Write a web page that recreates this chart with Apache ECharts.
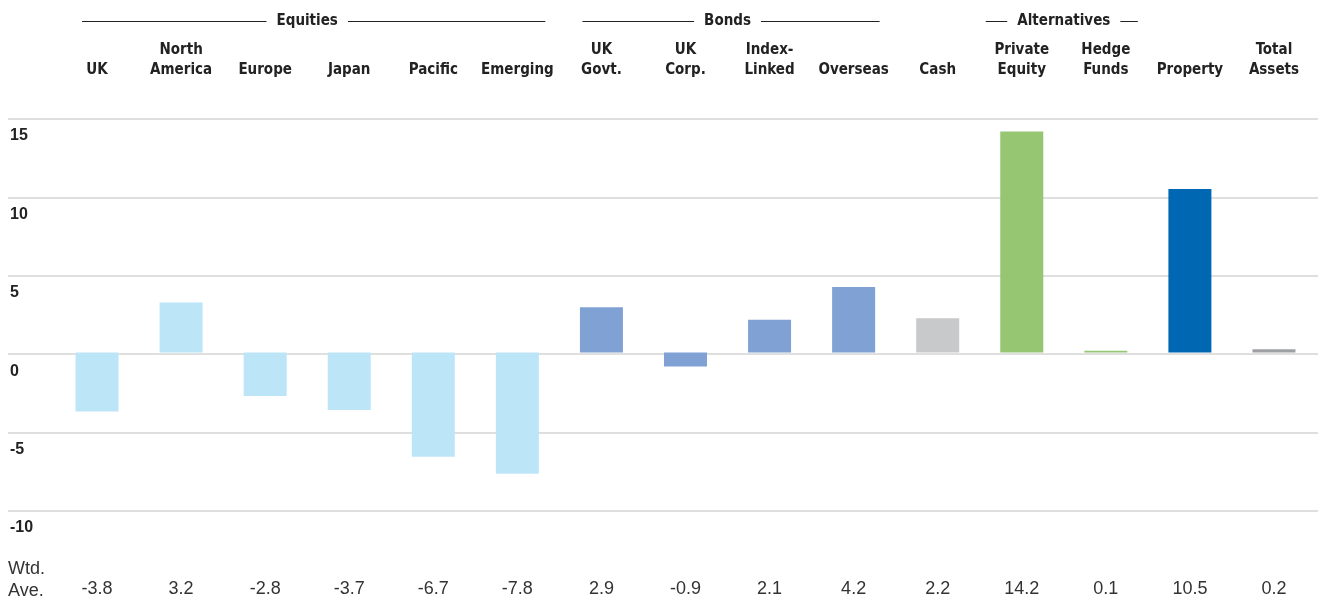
<!DOCTYPE html>
<html>
<head>
<meta charset="utf-8">
<script src="https://cdn.jsdelivr.net/npm/echarts@6/dist/echarts.min.js"></script>
<style>
  html, body { margin: 0; padding: 0; background: #fff; }
  #main { width: 1322px; height: 598px; }
</style>
</head>
<body>
<div id="main"></div>
<script>
// categories, two-line labels
const categories = ['UK', 'North\nAmerica', 'Europe', 'Japan', 'Pacific', 'Emerging',
  'UK\nGovt.', 'UK\nCorp.', 'Index-\nLinked', 'Overseas', 'Cash',
  'Private\nEquity', 'Hedge\nFunds', 'Property', 'Total\nAssets']
// weighted average returns
const values = [-3.8, 3.2, -2.8, -3.7, -6.7, -7.8, 2.9, -0.9, 2.1, 4.2, 2.2, 14.2, 0.1, 10.5, 0.2]
// asset kind for each category
const kinds = ['eq', 'eq', 'eq', 'eq', 'eq', 'eq', 'bond', 'bond', 'bond', 'bond', 'cash', 'alt', 'alt', 'prop', 'total']
// group headers: name, first and last category index
const groupNames = ['Equities', 'Bonds', 'Alternatives']
const groupFirst = [0, 6, 11]
const groupLast = [5, 9, 12]

const kindColor = { eq: '#BDE5F8', bond: '#7FA1D3', cash: '#C8C9CB', alt: '#96C672', prop: '#0067B2', total: '#9FA0A3' }
const groupPad = [[15, 28], [19, 26], [36, 32]]
const headFont = '"DejaVu Sans Condensed", "Liberation Sans Narrow", sans-serif'

const chart = echarts.init(document.getElementById('main'))
const option = {
  animation: false,
  grid: [
    { left: 8, right: 4, top: 119, bottom: 87 },
    { left: 55, right: 6, top: 119, bottom: 87 }
  ],
  xAxis: [
    { gridIndex: 0, type: 'value', show: false, min: 0, max: 1 },
    {
      gridIndex: 1, type: 'category', position: 'top', data: categories,
      axisLine: { show: false }, axisTick: { show: false },
      axisLabel: {
        interval: 0, margin: 39, color: '#222', fontFamily: headFont,
        fontWeight: 'bold', fontSize: 15, lineHeight: 20
      }
    },
    {
      gridIndex: 1, type: 'category', position: 'bottom',
      data: values.map(v => v.toFixed(1)),
      axisLine: { show: false }, axisTick: { show: false },
      axisLabel: {
        interval: 0, margin: 72, color: '#333',
        fontFamily: '"Liberation Sans", Arial, sans-serif', fontSize: 18
      }
    }
  ],
  yAxis: [
    {
      gridIndex: 0, type: 'value', min: -10, max: 15, interval: 5,
      axisLine: { show: false }, axisTick: { show: false },
      splitLine: { lineStyle: { color: '#D4D4D4', width: 1.5 } },
      axisLabel: {
        inside: true, margin: 2, verticalAlign: 'top', padding: [9, 0, 0, 0],
        color: '#222', fontWeight: 'bold', fontSize: 16,
        fontFamily: '"Liberation Sans", Arial, sans-serif'
      }
    },
    { gridIndex: 1, type: 'value', min: -10, max: 15, interval: 5, show: false, splitLine: { show: false } }
  ],
  series: [{
    type: 'bar',
    xAxisIndex: 1,
    yAxisIndex: 1,
    barWidth: 43,
    data: values.map((v, i) => ({ value: v, itemStyle: { color: kindColor[kinds[i]] } }))
  }]
}
chart.setOption(option)

// group headers with rules, placed from the category axis
const graphics = [{
  type: 'text', left: 8, top: 558,
  style: { text: 'Wtd.\nAve.', fill: '#333', font: '18px "Liberation Sans", Arial, sans-serif', lineHeight: 22 }
}]
const ctx = document.createElement('canvas').getContext('2d')
ctx.font = 'bold 15px ' + headFont
groupNames.forEach((name, g) => {
  const a = chart.convertToPixel({ xAxisIndex: 1 }, groupFirst[g])
  const b = chart.convertToPixel({ xAxisIndex: 1 }, groupLast[g])
  const x0 = a - groupPad[g][0]
  const x1 = b + groupPad[g][1]
  const xc = (a + b) / 2
  const w = ctx.measureText(name).width
  graphics.push({
    type: 'text', x: xc, y: 21,
    style: { text: name, fill: '#222', font: 'bold 15px ' + headFont, align: 'center', verticalAlign: 'middle' }
  })
  graphics.push({ type: 'line', shape: { x1: x0, y1: 21.5, x2: xc - w / 2 - 10, y2: 21.5 }, style: { stroke: '#222', lineWidth: 1 } })
  graphics.push({ type: 'line', shape: { x1: xc + w / 2 + 10, y1: 21.5, x2: x1, y2: 21.5 }, style: { stroke: '#222', lineWidth: 1 } })
})
chart.setOption({ graphic: graphics })
</script>
</body>
</html>
